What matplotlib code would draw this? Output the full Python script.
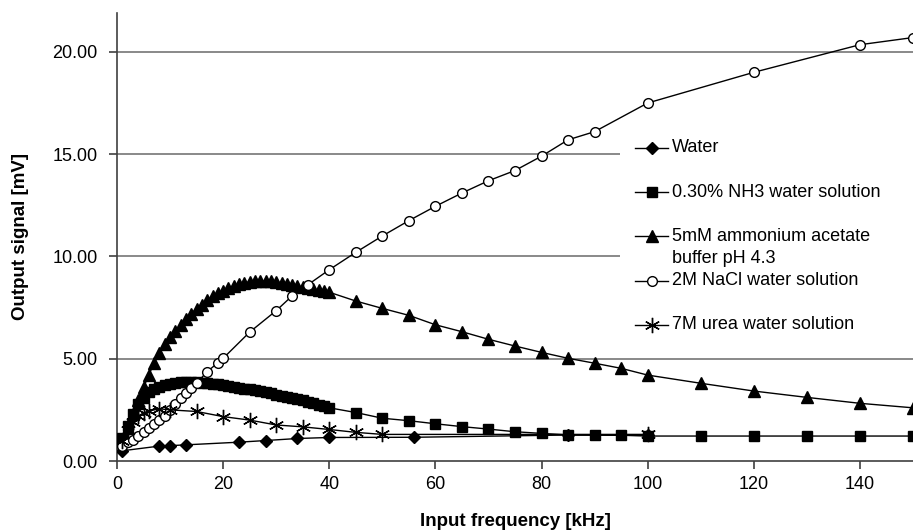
import matplotlib
matplotlib.use("Agg")
import matplotlib.pyplot as plt
from matplotlib.patches import Rectangle

plt.rcParams['font.family'] = ['Liberation Sans', 'DejaVu Sans']

# ---- data ----
water_f = [1, 8, 10, 13, 23, 28, 34, 40, 56, 85, 100]
water_v = [0.5, 0.73, 0.75, 0.79, 0.92, 1.0, 1.1, 1.15, 1.16, 1.27, 1.25]

nh3_f = list(range(1, 41)) + [45, 50, 55, 60, 65, 70, 75, 80, 85, 90, 95, 100,
                               110, 120, 130, 140, 150]
nh3_v = [1.1, 1.7, 2.3, 2.8, 3.1, 3.35, 3.5, 3.6, 3.7, 3.77,
         3.82, 3.85, 3.86, 3.86, 3.85, 3.82, 3.8, 3.77, 3.74, 3.7,
         3.66, 3.62, 3.58, 3.54, 3.5, 3.45, 3.4, 3.35, 3.3, 3.25,
         3.2, 3.15, 3.1, 3.04, 2.98, 2.9, 2.82, 2.75, 2.67, 2.6,
         2.37, 2.09, 1.97, 1.82, 1.68, 1.56, 1.43, 1.35, 1.27, 1.27, 1.26, 1.22,
         1.22, 1.22, 1.22, 1.22, 1.22]

acet_f = list(range(1, 41)) + [45, 50, 55, 60, 65, 70, 75, 80, 85, 90, 95, 100,
                                110, 120, 130, 140, 150]
acet_v = [1.0, 1.6, 2.3, 3.0, 3.6, 4.2, 4.8, 5.3, 5.7, 6.05,
          6.35, 6.65, 6.95, 7.2, 7.45, 7.65, 7.85, 8.05, 8.2, 8.33,
          8.45, 8.55, 8.63, 8.7, 8.75, 8.78, 8.8, 8.8, 8.78, 8.75,
          8.7, 8.65, 8.6, 8.55, 8.5, 8.45, 8.4, 8.35, 8.3, 8.25,
          7.82, 7.46, 7.12, 6.66, 6.32, 5.95, 5.62, 5.31, 5.02, 4.78, 4.53, 4.2,
          3.8, 3.42, 3.11, 2.82, 2.6]

nacl_f = [1, 2, 3, 4, 5, 6, 7, 8, 9, 10, 11, 12, 13, 14, 15, 17, 19, 20, 25, 30,
          33, 36, 40, 45, 50, 55, 60, 65, 70, 75, 80, 85, 90, 100, 120, 140, 150]
nacl_v = [0.75, 0.95, 1.05, 1.2, 1.4, 1.6, 1.8, 2.0, 2.2, 2.5, 2.8, 3.1, 3.3, 3.55,
          3.8, 4.37, 4.8, 5.02, 6.3, 7.35, 8.07, 8.62, 9.35, 10.2, 11.0, 11.75,
          12.45, 13.1, 13.7, 14.2, 14.9, 15.7, 16.1, 17.5, 19.0, 20.35, 20.7]

urea_f = [1, 2, 3, 4, 5, 6, 8, 10, 15, 20, 25, 30, 35, 40, 45, 50, 100]
urea_v = [1.0, 1.5, 1.9, 2.2, 2.35, 2.45, 2.55, 2.5, 2.42, 2.17, 2.0, 1.76,
          1.67, 1.54, 1.4, 1.3, 1.3]

labels = ["Water", "0.30% NH3 water solution", "5mM ammonium acetate",
          "2M NaCl water solution", "7M urea water solution"]
label_extra = "buffer pH 4.3"

yticks = [0, 5, 10, 15, 20]
ytick_labels = ["0.00", "5.00", "10.00", "15.00", "20.00"]
xticks = [0, 20, 40, 60, 80, 100, 120, 140]

# ---- styles ----
styles = [
    dict(marker='D', ms=6.2, mfc='black', mec='black'),
    dict(marker='s', ms=7.5, mfc='black', mec='black'),
    dict(marker='^', ms=8.5, mfc='black', mec='black'),
    dict(marker='o', ms=7, mfc='white', mec='black', mew=1.0),
    dict(marker=(6, 2, 0), ms=11, mfc='black', mec='black', mew=1.0),
]

fig = plt.figure(figsize=(9.13, 5.31), dpi=100)
ax = fig.add_axes([117 / 913, 1 - 461 / 531, 796 / 913, 448 / 531])

series = [(water_f, water_v), (nh3_f, nh3_v), (acet_f, acet_v),
          (nacl_f, nacl_v), (urea_f, urea_v)]
for i, (f, v) in enumerate(series):
    ax.plot(f, v, color='black', lw=1.0, zorder=3 + i, **styles[i])

ax.set_xlim(0, 150)
ax.set_ylim(0, 21.9)
ax.set_yticks(yticks)
ax.set_yticklabels(ytick_labels)
ax.set_xticks(xticks)

for y in yticks[1:]:
    ax.axhline(y, color='#808080', lw=1.3, zorder=0.5)

# white legend background hiding gridlines
ax.add_patch(Rectangle((0.632, 0.25), 0.37, 0.5, transform=ax.transAxes,
                       facecolor='white', edgecolor='none', zorder=1))

for s in ['top', 'right']:
    ax.spines[s].set_visible(False)
for s in ['left', 'bottom']:
    ax.spines[s].set_color('#404040')
    ax.spines[s].set_linewidth(1.2)
ax.tick_params(axis='both', direction='out', length=6, width=1.2,
               color='#404040', labelsize=13)
ax.tick_params(axis='y', pad=8)
ax.tick_params(axis='x', pad=5)

ax.set_xlabel("Input frequency [kHz]", fontsize=13.5, fontweight='bold')
ax.set_ylabel("Output signal [mV]", fontsize=13.5, fontweight='bold')
ax.xaxis.set_label_coords(0.5, -0.117)
ax.yaxis.set_label_coords(-0.11, 0.5)

# manual legend
leg_y = [0.699, 0.600, 0.502, 0.402, 0.304]
for i, lab in enumerate(labels):
    ax.plot([0.651, 0.692], [leg_y[i], leg_y[i]], color='black', lw=1.0,
            transform=ax.transAxes, clip_on=False, zorder=10)
    ax.plot([0.6715], [leg_y[i]], color='black', transform=ax.transAxes,
            clip_on=False, zorder=11, **styles[i])
    ax.text(0.697, leg_y[i], lab, transform=ax.transAxes, fontsize=13,
            va='center', ha='left', zorder=11)
ax.text(0.697, 0.453, label_extra, transform=ax.transAxes, fontsize=13,
        va='center', ha='left', zorder=11)

fig.savefig("out.png", dpi=100)
